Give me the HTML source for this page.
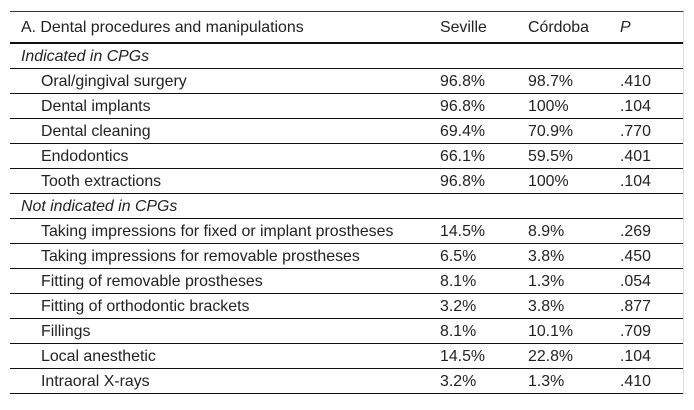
<!DOCTYPE html>
<html><head><meta charset="utf-8"><style>
body{margin:0;background:#fff;width:694px;height:410px;position:relative;font-family:"Liberation Sans",Arial,sans-serif;font-size:15.9px;color:#222;}
.wrap{position:absolute;left:10px;top:11px;width:673px;border-top:1px solid #333;border-right:1px solid #ddd;}
.r{position:relative;height:24px;border-bottom:1px solid #111;line-height:24px;}
.h{height:30px;line-height:30px;border-bottom:2px solid #111;}
.r span{position:absolute;top:1px;white-space:nowrap;}
.a{left:11px}.b{left:31px}.s{left:430px}.c{left:518px}.p{left:610px}
i{font-style:italic}
</style></head><body><div class="wrap">
<div class="r h"><span class="a">A. Dental procedures and manipulations</span><span class="s">Seville</span><span class="c">Córdoba</span><span class="p"><i>P</i></span></div>
<div class="r"><span class="a"><i>Indicated in CPGs</i></span></div>
<div class="r"><span class="b">Oral/gingival surgery</span><span class="s">96.8%</span><span class="c">98.7%</span><span class="p">.410</span></div>
<div class="r"><span class="b">Dental implants</span><span class="s">96.8%</span><span class="c">100%</span><span class="p">.104</span></div>
<div class="r"><span class="b">Dental cleaning</span><span class="s">69.4%</span><span class="c">70.9%</span><span class="p">.770</span></div>
<div class="r"><span class="b">Endodontics</span><span class="s">66.1%</span><span class="c">59.5%</span><span class="p">.401</span></div>
<div class="r"><span class="b">Tooth extractions</span><span class="s">96.8%</span><span class="c">100%</span><span class="p">.104</span></div>
<div class="r"><span class="a"><i>Not indicated in CPGs</i></span></div>
<div class="r"><span class="b">Taking impressions for fixed or implant prostheses</span><span class="s">14.5%</span><span class="c">8.9%</span><span class="p">.269</span></div>
<div class="r"><span class="b">Taking impressions for removable prostheses</span><span class="s">6.5%</span><span class="c">3.8%</span><span class="p">.450</span></div>
<div class="r"><span class="b">Fitting of removable prostheses</span><span class="s">8.1%</span><span class="c">1.3%</span><span class="p">.054</span></div>
<div class="r"><span class="b">Fitting of orthodontic brackets</span><span class="s">3.2%</span><span class="c">3.8%</span><span class="p">.877</span></div>
<div class="r"><span class="b">Fillings</span><span class="s">8.1%</span><span class="c">10.1%</span><span class="p">.709</span></div>
<div class="r"><span class="b">Local anesthetic</span><span class="s">14.5%</span><span class="c">22.8%</span><span class="p">.104</span></div>
<div class="r"><span class="b">Intraoral X-rays</span><span class="s">3.2%</span><span class="c">1.3%</span><span class="p">.410</span></div>
</div></body></html>
